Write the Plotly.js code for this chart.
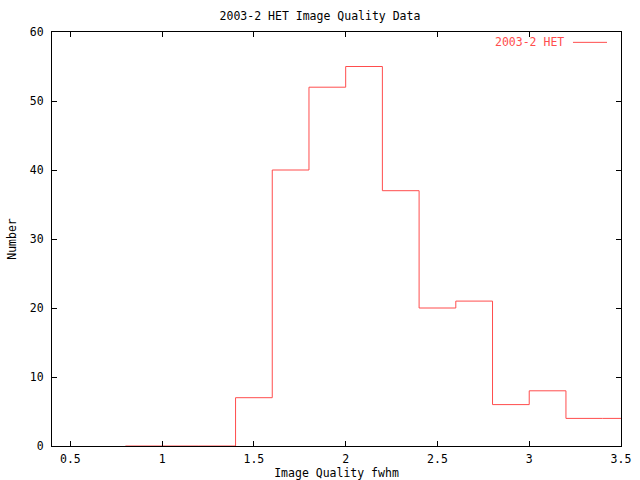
<!DOCTYPE html>
<html><head><meta charset="utf-8">
<script src="https://cdn.plot.ly/plotly-3.0.1.min.js"></script>
<style>html,body{margin:0;padding:0;background:#fff}#chart{width:640px;height:480px}</style>
</head><body><div id="chart"></div>
<script>
// Histogram bin centers (fwhm) and counts
const binCenters = [0.9, 1.1, 1.3, 1.5, 1.7, 1.9, 2.1, 2.3, 2.5, 2.7, 2.9, 3.1, 3.3, 3.5];
const counts     = [0,   0,   0,   7,   40,  52,  55,  37,  20,  21,  6,   8,   4,   4];
const seriesName = "2003-2 HET";
const binWidth = 0.2;

// histeps: step edges from bin centers
const xs = binCenters.map(c => c - binWidth / 2);
xs.push(binCenters[binCenters.length - 1] + binWidth / 2);
const ys = counts.slice();
ys.push(counts[counts.length - 1]);

const red = "#ff4d4d";
const font = {family: "DejaVu Sans Mono, monospace", size: 11.5, color: "#000"};

Plotly.newPlot("chart", [{
  x: xs, y: ys, type: "scatter", mode: "lines",
  line: {shape: "hv", color: red, width: 1},
  name: seriesName, showlegend: false, hoverinfo: "none"
}], {
  width: 640, height: 480,
  margin: {l: 52, r: 19, t: 32, b: 34, pad: 0},
  paper_bgcolor: "#fff", plot_bgcolor: "#fff",
  font: font,
  title: {text: "2003-2 HET Image Quality Data", x: 0.5, xanchor: "center", y: 0.967, yanchor: "middle", font: font},
  xaxis: {
    range: [0.4, 3.5], tickvals: [0.5, 1, 1.5, 2, 2.5, 3, 3.5], ticktext: ["0.5", "1", "1.5", "2", "2.5", "3", "3.5"],
    ticks: "inside", ticklen: 5, tickcolor: "#000", mirror: "allticks", showline: true, linecolor: "#000", linewidth: 1,
    showgrid: false, zeroline: false, tickfont: font, ticklabelstandoff: 2,
    title: {text: "Image Quality fwhm", font: font, standoff: 3}
  },
  yaxis: {
    range: [0, 60], tickvals: [0, 10, 20, 30, 40, 50, 60],
    ticks: "inside", ticklen: 5, tickcolor: "#000", mirror: "allticks", showline: true, linecolor: "#000", linewidth: 1,
    showgrid: false, zeroline: false, tickfont: font, ticklabelstandoff: 5,
    title: {text: "Number", font: font, standoff: 10}
  },
  annotations: [{
    xref: "paper", yref: "paper", x: 0.903, y: 0.975, xanchor: "right", yanchor: "middle",
    text: seriesName, showarrow: false, font: {family: font.family, size: 11.5, color: red}
  }],
  shapes: [{
    type: "line", xref: "paper", yref: "paper", x0: 0.9156, x1: 0.9754, y0: 0.975, y1: 0.975,
    line: {color: red, width: 1}
  }]
}, {displayModeBar: false, staticPlot: true});
</script></body></html>
